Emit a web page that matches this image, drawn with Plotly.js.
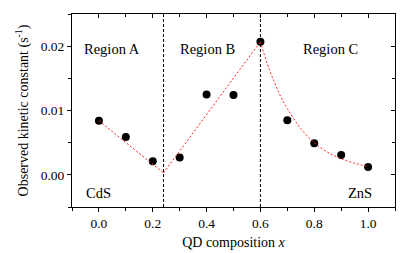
<!DOCTYPE html>
<html><head><meta charset="utf-8">
<script src="https://cdn.plot.ly/plotly-3.0.1.min.js"></script>
<style>html,body{margin:0;padding:0;background:#fff;}#c{width:411px;height:253px;}</style>
</head><body><div id="c"></div>
<script>
// measured data
const compX = [0.0, 0.1, 0.2, 0.3, 0.4, 0.5, 0.6, 0.7, 0.8, 0.9, 1.0];
const kObs  = [0.0084, 0.0059, 0.0021, 0.0027, 0.0125, 0.0124, 0.0207, 0.0085, 0.0049, 0.0031, 0.0012];
// fitted lines
const fitAX = [0.0, 0.24];
const fitAY = [0.0084, 0.0003];
const fitBX = [0.24, 0.6];
const fitBY = [0.0003, 0.0207];
const fitCX = [0.6, 0.625, 0.65, 0.675, 0.7, 0.75, 0.8, 0.85, 0.9, 0.95, 1.0];
const fitCY = [0.0207, 0.0173, 0.0146, 0.0122, 0.0103, 0.0072, 0.0050, 0.0035, 0.0025, 0.0018, 0.0013];
const boundaries = [0.24, 0.6];
const regionLabels = ["Region A", "Region B", "Region C"];
const regionX = [0.05, 0.405, 0.86];
const regionY = 0.0196;
const endLabels = ["CdS", "ZnS"];
const endX = [0.0, 0.97];
const endY = -0.0028;
const xTickVals = [0.0, 0.2, 0.4, 0.6, 0.8, 1.0];
const xTickText = ["0.0", "0.2", "0.4", "0.6", "0.8", "1.0"];
const yTickVals = [0.00, 0.01, 0.02];
const yTickText = ["0.00", "0.01", "0.02"];

const font = {family: "Liberation Serif, Times New Roman, serif", color: "#000"};
const fitLine = {color: "#ff2020", width: 1, dash: "2px,2px"};

const traces = [
  {x: compX, y: kObs, mode: "markers", type: "scatter", marker: {color: "#000", size: 8}, hoverinfo: "none"},
  {x: fitAX, y: fitAY, mode: "lines", type: "scatter", line: fitLine},
  {x: fitBX, y: fitBY, mode: "lines", type: "scatter", line: fitLine},
  {x: fitCX, y: fitCY, mode: "lines", type: "scatter", line: Object.assign({shape: "spline"}, fitLine)},
  // invisible copy so the mirrored top/right tick axes are drawn
  {x: compX, y: kObs, mode: "markers", type: "scatter", xaxis: "x2", yaxis: "y2", marker: {opacity: 0}, hoverinfo: "none"}
];

const annotations = [];
regionLabels.forEach((t, i) => annotations.push({x: regionX[i], y: regionY, text: t, showarrow: false, xref: "x", yref: "y", font: Object.assign({size: 14.5}, font)}));
endLabels.forEach((t, i) => annotations.push({x: endX[i], y: endY, text: t, showarrow: false, xref: "x", yref: "y", font: Object.assign({size: 14.5}, font)}));

const shapes = boundaries.map(b => ({type: "line", xref: "x", yref: "paper", x0: b, x1: b, y0: 0, y1: 1, line: {color: "#000", width: 1, dash: "3px,2px"}}));

const axBase = {showgrid: false, zeroline: false, showline: true, linecolor: "#000", linewidth: 1,
  ticks: "outside", ticklen: 4, tickwidth: 1, tickcolor: "#000", tickfont: Object.assign({size: 13.5}, font)};

const layout = {
  width: 411, height: 253,
  margin: {l: 72, r: 16, t: 14, b: 46},
  paper_bgcolor: "#fff", plot_bgcolor: "#fff",
  showlegend: false,
  font: font,
  xaxis: Object.assign({}, axBase, {range: [-0.1, 1.1], tickvals: xTickVals, ticktext: xTickText, mirror: true,
    minor: {dtick: 0.1, tick0: 0, ticklen: 3, ticks: "outside", tickcolor: "#000"},
    title: {text: "QD composition <i>x</i>", font: Object.assign({size: 14}, font), standoff: 6}}),
  yaxis: Object.assign({}, axBase, {range: [-0.005, 0.025], tickvals: yTickVals, ticktext: yTickText, mirror: true,
    minor: {dtick: 0.005, tick0: 0, ticklen: 3, ticks: "outside", tickcolor: "#000"},
    title: {text: "Observed kinetic constant (s<sup>-1</sup>)", font: Object.assign({size: 14}, font), standoff: 8}}),
  xaxis2: {matches: "x", overlaying: "x", side: "top", showgrid: false, zeroline: false, showline: false,
    ticks: "inside", ticklen: 4, tickcolor: "#000", showticklabels: false, tickvals: xTickVals,
    minor: {dtick: 0.1, tick0: 0, ticklen: 3, ticks: "inside", tickcolor: "#000"}},
  yaxis2: {matches: "y", overlaying: "y", side: "right", showgrid: false, zeroline: false, showline: false,
    ticks: "inside", ticklen: 4, tickcolor: "#000", showticklabels: false, tickvals: yTickVals,
    minor: {dtick: 0.005, tick0: 0, ticklen: 3, ticks: "inside", tickcolor: "#000"}},
  annotations: annotations,
  shapes: shapes
};

Plotly.newPlot("c", traces, layout, {staticPlot: true, displayModeBar: false});
</script></body></html>
